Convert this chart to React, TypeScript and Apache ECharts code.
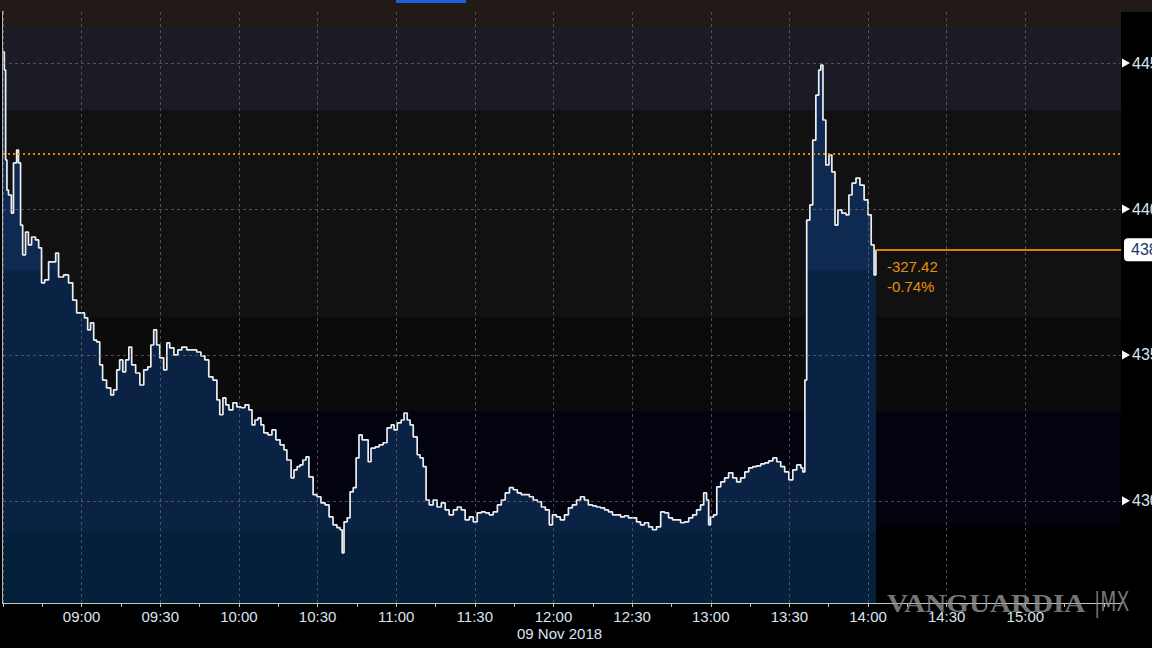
import React, { useEffect, useRef } from "react";
import * as echarts from "echarts";

// minutes since 08:30 session start
const minutes = [0,0.5,1.0,1.5,2.1,3.2,4.0,5.2,5.9,6.7,7.5,8.6,9.7,10.9,12.4,13.6,14.7,15.9,17.4,18.9,20.1,21.2,23.1,25.0,26.6,28.1,29.6,31.1,32.3,33.4,34.6,35.7,36.9,38.0,39.5,41.1,42.2,43.4,44.5,45.7,46.8,48.0,49.1,50.6,52.2,53.7,55.2,56.4,57.5,58.6,59.8,61.3,62.5,63.6,65.2,66.7,68.2,70.1,72.0,73.9,75.5,77.0,78.5,80.1,81.6,82.7,83.9,85.0,86.2,87.7,89.2,90.8,92.3,93.8,95.0,96.1,97.3,98.4,99.5,101.1,102.6,104.1,105.7,107.2,108.3,109.9,111.0,112.2,113.3,114.4,115.6,116.7,118.3,119.8,121.3,122.9,124.4,125.9,127.4,128.6,129.4,130.1,131.3,132.4,133.6,134.7,135.8,137.0,138.1,139.3,140.4,142.0,143.5,145.0,146.5,148.1,149.2,150.4,151.9,153.0,154.2,155.3,156.5,158.0,159.1,160.3,161.4,162.6,164.1,165.6,167.2,168.7,170.2,171.8,173.3,174.8,176.3,177.9,179.4,180.9,182.5,184.0,185.5,187.0,188.6,190.1,191.6,193.2,194.7,196.2,197.7,199.3,200.8,202.3,203.9,205.4,206.9,208.4,209.6,211.1,212.6,214.2,215.7,217.2,218.8,220.3,221.8,223.3,224.9,226.4,227.9,229.5,231.0,232.5,234.0,235.6,237.1,238.6,240.2,241.7,243.2,244.7,246.3,247.8,249.3,250.9,252.4,253.9,255.4,257.0,258.5,260.0,261.6,263.1,264.6,266.1,267.3,268.4,269.2,269.9,271.1,272.3,273.8,275.3,276.8,278.4,279.9,281.4,283.0,284.5,286.0,287.5,289.1,290.6,292.1,293.7,295.2,296.7,298.2,299.8,301.3,302.8,304.4,305.1,305.9,306.6,307.8,308.9,310.1,311.2,312.0,312.8,313.9,315.1,316.2,317.4,318.5,320.0,321.6,322.7,323.9,325.4,326.9,328.5,330.0,331.2,332.3,333.0];

const prices = [44538,44476,44168,44065,44048,43986,44158,44202,44158,43945,43843,43921,43877,43904,43894,43867,43747,43757,43819,43819,43849,43767,43774,43747,43688,43644,43644,43627,43586,43610,43551,43545,43466,43414,43387,43363,43380,43449,43483,43442,43483,43527,43466,43438,43397,43449,43459,43534,43586,43534,43490,43449,43541,43524,43500,43517,43527,43517,43517,43510,43497,43483,43425,43414,43346,43295,43353,43329,43312,43336,43322,43319,43329,43312,43260,43277,43284,43260,43233,43226,43243,43209,43192,43175,43140,43079,43106,43117,43123,43140,43151,43082,43021,43014,42993,42986,42945,42918,42908,42901,42822,42928,42942,43031,43045,43147,43226,43209,43209,43134,43181,43185,43192,43199,43250,43260,43243,43267,43277,43301,43277,43260,43219,43158,43147,43117,43003,42986,43003,42979,42993,42969,42952,42969,42979,42969,42935,42945,42928,42959,42962,42959,42952,42962,42986,43003,43027,43045,43038,43027,43021,43021,43014,43003,42997,42979,42969,42918,42952,42945,42935,42952,42976,42986,43003,43014,43003,42986,42983,42979,42976,42969,42962,42952,42952,42945,42949,42942,42942,42928,42918,42925,42911,42901,42911,42962,42959,42942,42935,42935,42925,42928,42942,42952,42969,42986,43027,43003,42918,42945,42952,43048,43065,43079,43096,43079,43065,43079,43099,43113,43117,43120,43127,43130,43137,43147,43134,43117,43099,43072,43106,43123,43113,43099,43414,43962,44014,44236,44390,44476,44493,44305,44151,44185,44127,43945,43997,43986,43980,44048,44089,44106,44082,44031,43980,43877,43774,43860.58];

const sessionStart = 8 * 60 + 30;
const xMin = 0;
const xMax = 426.5;
const xGridLines = [0, 30, 60, 90, 120, 150, 180, 210, 240, 270, 300, 330, 360, 390];
const yMin = 42650;
const yMax = 44675;
const yLabels = [43000, 43500, 44000, 44500];
const yMinorTicks = [42750, 43250, 43750, 44250];
const prevClose = 44188.0;
const lastPrice = 43860.58;
const netChange = "-327.42";
const pctChange = "-0.74%";
const legendText = "Últ precio  43532.30";
const dateLabel = "09 Nov 2018";
const bands = [
  { from: 44620, to: 44675, color: "#211a17" },
  { from: 44339, to: 44620, color: "#1a1b24" },
  { from: 43627, to: 44339, color: "#111111" },
  { from: 43305, to: 43627, color: "#0b0b0b" },
  { from: 42911, to: 43305, color: "#03030f" },
  { from: 42650, to: 42911, color: "#000000" },
];

const pad = (n: number) => (n < 10 ? "0" + n : String(n));
const fmtTime = (m: number) => {
  const t = sessionStart + m;
  return pad(Math.floor(t / 60)) + ":" + pad(t % 60);
};

export default function App() {
  const ref = useRef<HTMLDivElement>(null);
  useEffect(() => {
    const chart = echarts.init(ref.current!, null, { renderer: "svg" });
    const data = minutes.map((m, i) => [m, prices[i]]);
    const gridStyle = { color: "rgba(120,120,120,0.6)", type: [3, 3] as any, width: 1 };
    const option: any = {
      animation: false,
      backgroundColor: "#000000",
      grid: { left: 3, right: 31, top: 12, bottom: 45, containLabel: false, outerBoundsMode: "none" },
      xAxis: {
        type: "value",
        min: xMin,
        max: xMax,
        interval: 15,
        axisLine: { show: true, lineStyle: { color: "#c4c4c4", width: 2 } },
        axisTick: { show: true, length: 4, lineStyle: { color: "#c4c4c4" } },
        splitLine: { show: false },
        axisLabel: {
          color: "#dbe3f0",
          fontFamily: "Liberation Sans",
          fontSize: 15,
          margin: 6,
          showMinLabel: true,
          showMaxLabel: false,
          formatter: (v: number) => (v > 0 && v <= 390 && v % 30 === 0 ? fmtTime(v) : ""),
        },
      },
      yAxis: {
        type: "value",
        position: "right",
        min: yMin,
        max: yMax,
        axisLine: { show: true, lineStyle: { color: "#b4b4b4", width: 2 } },
        axisTick: { show: true, length: 4, customValues: yMinorTicks, lineStyle: { color: "#c4c4c4" } },
        splitLine: { show: false },
        axisLabel: {
          customValues: yLabels,
          color: "#dbe3f0",
          fontFamily: "Liberation Sans",
          fontSize: 16,
          margin: 11,
          formatter: (v: number) => String(v),
        },
      },
      series: [
        {
          type: "line",
          z: 1,
          silent: true,
          data: [],
          markArea: {
            silent: true,
            data: bands.map((b) => [
              { yAxis: b.from, itemStyle: { color: b.color } },
              { yAxis: b.to },
            ]),
          },
        },
        {
          type: "line",
          z: 2,
          step: "end",
          showSymbol: false,
          data,
          lineStyle: { color: "#eceef2", width: 1.7 },
          areaStyle: {
            origin: "start",
            opacity: 1,
            color: new echarts.graphic.LinearGradient(0, 12, 0, 603, [
              { offset: 0, color: "#0f2a50" },
              { offset: 0.436, color: "#0f2a50" },
              { offset: 0.437, color: "#0a2244" },
              { offset: 0.879, color: "#0a2244" },
              { offset: 0.88, color: "#05203a" },
              { offset: 1, color: "#05203a" },
            ], true),
          },
        },
        {
          type: "line",
          z: 3,
          silent: true,
          data: [],
          markLine: {
            silent: true,
            symbol: ["none", "none"],
            label: { show: false },
            data: [
              ...xGridLines.map((v) => ({ xAxis: v, lineStyle: gridStyle })),
              ...yLabels.map((v) => ({ yAxis: v, lineStyle: gridStyle })),
              { yAxis: prevClose, lineStyle: { color: "#e08a00", type: [2, 3], width: 2 } },
              [
                {
                  coord: [minutes[minutes.length - 1], lastPrice],
                  lineStyle: { color: "#e88a00", type: "solid", width: 1.5 },
                  label: {
                    show: true,
                    position: "insideStartBottom",
                    formatter: netChange + "\n" + pctChange,
                    color: "#e8900a",
                    fontFamily: "Liberation Sans",
                    fontSize: 15,
                    lineHeight: 20,
                    align: "left",
                    padding: [2, 0, 0, 6],
                  },
                },
                { coord: [xMax, lastPrice] },
              ],
              [
                {
                  coord: [minutes[minutes.length - 1], lastPrice],
                  lineStyle: { color: "#e88a00", type: "solid", width: 1.5 },
                  label: {
                    show: true,
                    position: "end",
                    distance: 3,
                    formatter: lastPrice.toFixed(2),
                    backgroundColor: "#ffffff",
                    color: "#163a6b",
                    fontFamily: "Liberation Sans",
                    fontSize: 16,
                    padding: [4, 4, 3, 7],
                    borderRadius: 4,
                  },
                },
                { coord: [xMax, lastPrice] },
              ],
            ],
          },
          markPoint: {
            silent: true,
            symbol: "triangle",
            symbolSize: [9, 8],
            symbolRotate: -90,
            symbolOffset: [5, 0],
            itemStyle: { color: "#ffffff" },
            label: { show: false },
            data: yLabels.map((v) => ({ coord: [xMax, v] })),
          },
        },
      ],
      graphic: [
        { type: "rect", left: 0, top: 0, shape: { width: 1152, height: 12 }, style: { fill: "#211a17" }, z: -1 },
        { type: "rect", left: 396, top: 0, shape: { width: 70, height: 3 }, style: { fill: "#1f5fd6" }, z: 10 },
        {
          type: "group",
          left: 5,
          top: 14,
          z: 10,
          children: [
            { type: "rect", shape: { x: 0, y: 0, width: 188, height: 31, r: 5 }, style: { fill: "#0a0a0a", stroke: "#262626", lineWidth: 1 } },
            { type: "rect", shape: { x: 11, y: 8, width: 14, height: 14 }, style: { fill: "#ffffff" } },
            {
              type: "text",
              x: 32,
              y: 15.5,
              style: { text: legendText, fill: "#cfd8ea", font: "16px 'Liberation Sans'", verticalAlign: "middle" },
            },
          ],
        },
        {
          type: "text",
          left: 517,
          top: 626,
          style: { text: dateLabel, fill: "#dbe3f0", font: "15px 'Liberation Sans'" },
        },
        {
          type: "text",
          x: 887,
          y: 590,
          scaleX: 1.12,
          z: 20,
          style: { text: "VANGUARDIA", fill: "rgba(150,150,150,0.8)", font: "bold 26px 'Liberation Serif'" },
        },
        {
          type: "text",
          x: 1094,
          y: 589,
          scaleX: 0.72,
          z: 20,
          style: { text: "|MX", fill: "rgba(140,140,140,0.85)", font: "26px 'DejaVu Sans'" },
        },
      ],
    };
    chart.setOption(option);
    return () => chart.dispose();
  }, []);
  return (
    <div
      ref={ref}
      style={{ position: "fixed", left: 0, top: 0, width: 1152, height: 648, background: "#000" }}
    />
  );
}
